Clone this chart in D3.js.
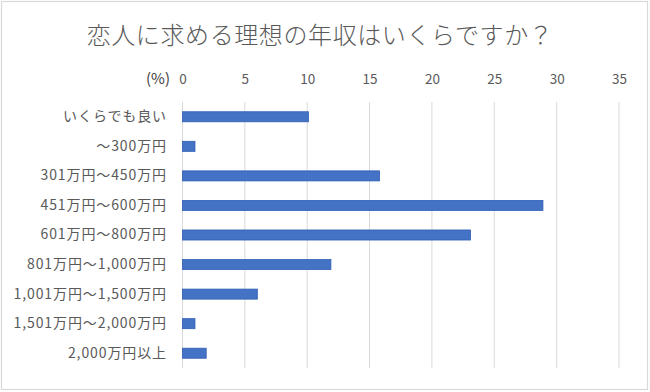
<!DOCTYPE html>
<html lang="ja">
<head>
<meta charset="utf-8">
<title>恋人に求める理想の年収</title>
<script src="https://d3js.org/d3.v7.min.js"></script>
<style>
  body { margin: 0; background: #fff; }
  text { font-family: "Noto Sans CJK JP", "Noto Sans", sans-serif; }
</style>
</head>
<body>
<div id="container"></div>
<script>
// data
var categories = ["いくらでも良い", "～300万円", "301万円～450万円", "451万円～600万円",
  "601万円～800万円", "801万円～1,000万円", "1,001万円～1,500万円", "1,501万円～2,000万円", "2,000万円以上"];
var values = [10.1, 1.0, 15.8, 28.9, 23.1, 11.9, 6.0, 1.0, 1.9];
var xTicks = [0, 5, 10, 15, 20, 25, 30, 35];

var w = 650, h = 392;
var m = { top: 102, right: 31, bottom: 24, left: 182.5 };

var svg = d3.select("#container").append("svg")
  .attr("width", w).attr("height", h);

// chart frame
svg.append("rect")
  .attr("x", 1.5).attr("y", 1.5)
  .attr("width", w - 4).attr("height", h - 4)
  .attr("fill", "#fff").attr("stroke", "#d9d9d9").attr("stroke-width", 1.2);

var x = d3.scaleLinear().domain([0, 35]).range([m.left, w - m.right]);
var y = d3.scaleBand().domain(categories).range([m.top, h - m.bottom]).paddingInner(0.66).paddingOuter(0.33);

// gridlines
svg.append("g").selectAll("line").data(xTicks).join("line")
  .attr("x1", d => x(d)).attr("x2", d => x(d))
  .attr("y1", m.top).attr("y2", h - m.bottom)
  .attr("stroke", "#d9d9d9").attr("stroke-width", 1);

// x axis labels on top
var xAxis = svg.append("g")
  .attr("transform", "translate(0," + 84 + ")")
  .call(d3.axisTop(x).tickValues(xTicks).tickSize(0).tickPadding(0));
xAxis.select(".domain").remove();
xAxis.selectAll("text")
  .attr("fill", "#595959").style("font-size", "13.5px");

svg.append("text")
  .attr("x", 170).attr("y", 84)
  .attr("text-anchor", "end")
  .attr("fill", "#404040").style("font-size", "15px")
  .text("(%)");

// category labels
var yAxis = svg.append("g")
  .attr("transform", "translate(" + 167 + ",0)")
  .call(d3.axisLeft(y).tickSize(0).tickPadding(0));
yAxis.select(".domain").remove();
yAxis.selectAll("text")
  .attr("fill", "#595959").style("font-size", "14px").style("letter-spacing", "0.9px");

// bars
svg.append("g").selectAll("rect").data(values).join("rect")
  .attr("x", x(0))
  .attr("y", (d, i) => y(categories[i]))
  .attr("width", d => x(d) - x(0))
  .attr("height", y.bandwidth())
  .attr("fill", "#4472c4")
  .attr("stroke", "#2f5fb5").attr("stroke-width", 0.8);

// title
svg.append("text")
  .attr("x", 320).attr("y", 44)
  .attr("text-anchor", "middle")
  .attr("fill", "#595959")
  .style("font-size", "24px").style("font-weight", 300).style("letter-spacing", "0.6px")
  .text("恋人に求める理想の年収はいくらですか？");
</script>
</body>
</html>
